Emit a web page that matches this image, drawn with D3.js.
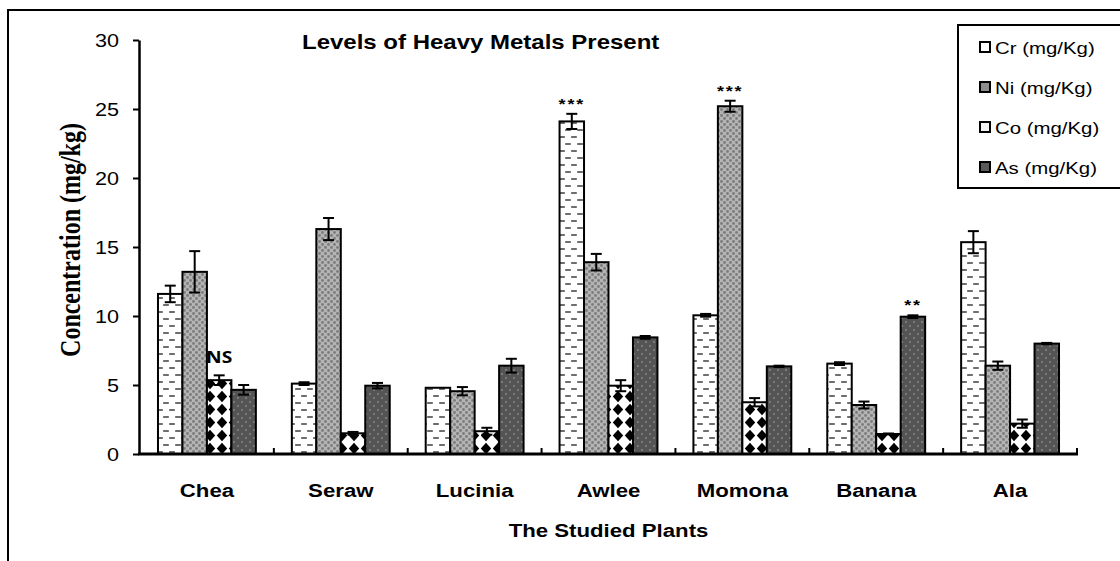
<!DOCTYPE html>
<html>
<head>
<meta charset="utf-8">
<script src="https://cdn.jsdelivr.net/npm/d3@7"></script>
<style>
  body { margin: 0; background: #fff; }
  svg { display: block; }
</style>
</head>
<body>
<div id="chart"></div>
<script>
// data
const categories = ['Chea', 'Seraw', 'Lucinia', 'Awlee', 'Momona', 'Banana', 'Ala'];
const series = ['Cr (mg/Kg)', 'Ni (mg/Kg)', 'Co (mg/Kg)', 'As (mg/Kg)'];
const crValues = [11.6, 5.1, 4.8, 24.1, 10.05, 6.55, 15.35];
const niValues = [13.2, 16.3, 4.55, 13.9, 25.2, 3.55, 6.4];
const coValues = [5.35, 1.5, 1.65, 4.95, 3.75, 1.45, 2.2];
const asValues = [4.65, 4.95, 6.4, 8.45, 6.35, 9.95, 8.0];
const crErr = [0.6, 0.1, 0, 0.55, 0.1, 0.1, 0.8];
const niErr = [1.5, 0.8, 0.3, 0.6, 0.4, 0.25, 0.3];
const coErr = [0.35, 0.1, 0.25, 0.4, 0.3, 0, 0.3];
const asErr = [0.35, 0.2, 0.5, 0.1, 0.05, 0.1, 0.05];
const yTicks = [0, 5, 10, 15, 20, 25, 30];
const marks = [
  {cat: 'Chea', s: 2, label: 'NS'},
  {cat: 'Awlee', s: 0, label: '***'},
  {cat: 'Momona', s: 1, label: '***'},
  {cat: 'Banana', s: 3, label: '**'}
];

const W = 1120, H = 561;
const SX = 1.2; // text in the reference is stretched sideways
const sans = 'Liberation Sans, Arial, sans-serif';

const values = [crValues, niValues, coValues, asValues];
const errors = [crErr, niErr, coErr, asErr];
const rows = [];
categories.forEach((c, i) => {
  series.forEach((s, j) => {
    rows.push({cat: c, s: j, v: values[j][i], e: errors[j][i]});
  });
});

const svg = d3.select('#chart').append('svg')
    .attr('width', W)
    .attr('height', H);

// fill patterns
const defs = svg.append('defs');

const pCr = defs.append('pattern').attr('id', 'p0')
    .attr('patternUnits', 'userSpaceOnUse').attr('width', 12).attr('height', 14);
pCr.append('rect').attr('width', 12).attr('height', 14).attr('fill', '#fff');
[[1, 3], [7, 10], [-5, 10]].forEach(d => {
  pCr.append('rect').attr('x', d[0]).attr('y', d[1]).attr('width', 6).attr('height', 2)
      .attr('rx', 0.8).attr('fill', '#6e6e6e');
});

const pNi = defs.append('pattern').attr('id', 'p1')
    .attr('patternUnits', 'userSpaceOnUse').attr('width', 6).attr('height', 6);
pNi.append('rect').attr('width', 6).attr('height', 6).attr('fill', '#b4b4b4');
[[1.5, 1.5], [4.5, 4.5]].forEach(d => {
  pNi.append('circle').attr('cx', d[0]).attr('cy', d[1]).attr('r', 1.4).attr('fill', '#7c7c7c');
});

const pCo = defs.append('pattern').attr('id', 'p2')
    .attr('patternUnits', 'userSpaceOnUse').attr('width', 12).attr('height', 13);
pCo.append('rect').attr('width', 12).attr('height', 13).attr('fill', '#fff');
pCo.append('polygon').attr('points', '6,0.8 11.2,6.5 6,12.2 0.8,6.5').attr('fill', '#000');

const pAs = defs.append('pattern').attr('id', 'p3')
    .attr('patternUnits', 'userSpaceOnUse').attr('width', 8).attr('height', 8);
pAs.append('rect').attr('width', 8).attr('height', 8).attr('fill', '#545454');
[[2, 2], [6, 6]].forEach(d => {
  pAs.append('circle').attr('cx', d[0]).attr('cy', d[1]).attr('r', 0.9).attr('fill', '#8c8c8c');
});

// outer frame (only top and left edges fall inside the picture)
svg.append('path')
    .attr('d', 'M8,' + H + 'V10H' + W)
    .attr('fill', 'none').attr('stroke', '#000').attr('stroke-width', 2);

// scales
const x0 = d3.scaleBand().domain(categories).range([140, 1077]);
const x1 = d3.scaleBand().domain(d3.range(series.length))
    .range([0, x0.bandwidth()]).paddingOuter(0.735);
const y = d3.scaleLinear().domain([0, 30]).range([454, 40]);

// y axis
const yAxis = svg.append('g')
    .attr('transform', 'translate(139,0)')
    .call(d3.axisLeft(y).tickValues(yTicks).tickSize(6).tickSizeOuter(0));
yAxis.select('.domain').attr('stroke-width', 2.5);
yAxis.selectAll('.tick line').attr('stroke-width', 2);
yAxis.selectAll('.tick text')
    .attr('x', 0).attr('dy', '0.36em')
    .attr('transform', 'translate(-20,0) scale(' + SX + ',1)')
    .style('font-family', sans).style('font-size', '18px').attr('fill', '#000');

// bars
const bars = svg.append('g');
bars.selectAll('rect').data(rows).join('rect')
    .attr('x', d => x0(d.cat) + x1(d.s))
    .attr('y', d => y(d.v))
    .attr('width', x1.bandwidth())
    .attr('height', d => y(0) - y(d.v))
    .attr('fill', d => 'url(#p' + d.s + ')')
    .attr('stroke', '#000').attr('stroke-width', 2);

// error bars
const eb = svg.append('g').attr('stroke', '#000').attr('stroke-width', 2);
rows.filter(d => d.e > 0).forEach(d => {
  const cx = x0(d.cat) + x1(d.s) + x1.bandwidth() / 2;
  const g = eb.append('g');
  g.append('line').attr('x1', cx).attr('x2', cx).attr('y1', y(d.v + d.e)).attr('y2', y(d.v - d.e));
  g.append('line').attr('x1', cx - 5.5).attr('x2', cx + 5.5).attr('y1', y(d.v + d.e)).attr('y2', y(d.v + d.e));
  g.append('line').attr('x1', cx - 5.5).attr('x2', cx + 5.5).attr('y1', y(d.v - d.e)).attr('y2', y(d.v - d.e));
});
// zero-error bars still show a flat cap in the reference
rows.filter(d => d.e === 0 && d.s !== 0).forEach(d => {
  const cx = x0(d.cat) + x1(d.s) + x1.bandwidth() / 2;
  eb.append('line').attr('x1', cx - 5.5).attr('x2', cx + 5.5)
      .attr('y1', y(d.v)).attr('y2', y(d.v)).attr('stroke-width', 3);
});

// x axis
const xAxis = svg.append('g');
xAxis.append('line')
    .attr('x1', 138).attr('x2', 1078).attr('y1', y(0)).attr('y2', y(0))
    .attr('stroke', '#000').attr('stroke-width', 3);
categories.slice(1).concat([null]).forEach(c => {
  const xx = c ? x0(c) : x0.range()[1];
  xAxis.append('line')
      .attr('x1', xx).attr('x2', xx).attr('y1', y(0)).attr('y2', y(0) - 6)
      .attr('stroke', '#000').attr('stroke-width', 2);
});
categories.forEach(c => {
  xAxis.append('text')
      .attr('transform', 'translate(' + (x0(c) + x0.bandwidth() / 2) + ',497) scale(' + SX + ',1)')
      .attr('text-anchor', 'middle')
      .style('font-family', sans).style('font-size', '18.5px').style('font-weight', 'bold')
      .text(c);
});

// significance marks
marks.forEach(m => {
  const i = categories.indexOf(m.cat);
  const v = values[m.s][i] + errors[m.s][i];
  const cx = x0(m.cat) + x1(m.s) + x1.bandwidth() / 2;
  const isNS = m.label === 'NS';
  svg.append('text')
      .attr('transform', 'translate(' + cx + ',' + (y(v) - (isNS ? 12 : 5)) + ') scale(' + SX + ',1)')
      .attr('text-anchor', 'middle')
      .style('font-family', isNS ? 'Open Sans, sans-serif' : sans)
      .style('font-size', isNS ? '16px' : '15px')
      .style('font-weight', 'bold')
      .style('letter-spacing', isNS ? '0px' : '1.5px')
      .text(m.label);
});

// titles
svg.append('text')
    .attr('transform', 'translate(302,49) scale(' + SX + ',1)')
    .style('font-family', sans).style('font-size', '20px').style('font-weight', 'bold')
    .text('Levels of Heavy Metals Present');

svg.append('text')
    .attr('transform', 'translate(' + (x0.range()[0] + x0.range()[1]) / 2 + ',537) scale(' + SX + ',1)')
    .attr('text-anchor', 'middle')
    .style('font-family', sans).style('font-size', '18.5px').style('font-weight', 'bold')
    .text('The Studied Plants');

svg.append('text')
    .attr('transform', 'translate(80,240) scale(' + SX + ',1) rotate(-90)')
    .attr('text-anchor', 'middle')
    .style('font-family', 'Liberation Serif, Times New Roman, serif')
    .style('font-size', '24px').style('font-weight', 'bold')
    .text('Concentration (mg/kg)');

// legend
const legend = svg.append('g');
legend.append('rect')
    .attr('x', 958).attr('y', 25).attr('width', 200).attr('height', 163)
    .attr('fill', '#fff').attr('stroke', '#000').attr('stroke-width', 2);
const swatchFill = ['#fff', '#8e8e8e', '#f2f2f2', '#5a5a5a'];
series.forEach((s, j) => {
  const g = legend.append('g').attr('transform', 'translate(980,' + (42 + j * 40) + ')');
  g.append('rect').attr('width', 10).attr('height', 10)
      .attr('fill', swatchFill[j]).attr('stroke', '#000').attr('stroke-width', 2);
  g.append('text')
      .attr('transform', 'translate(15,12) scale(' + SX + ',1)')
      .style('font-family', sans).style('font-size', '17px')
      .text(s);
});
</script>
</body>
</html>
